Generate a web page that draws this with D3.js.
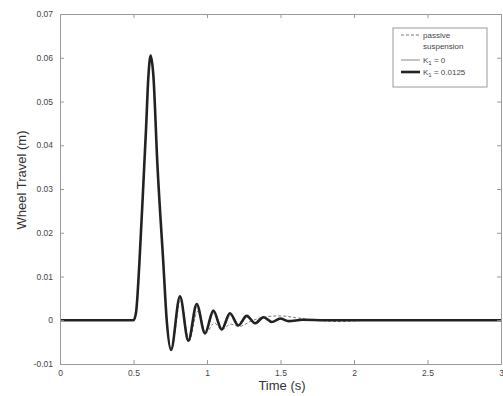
<!DOCTYPE html>
<html>
<head>
<meta charset="utf-8">
<script src="https://cdn.jsdelivr.net/npm/d3@7"></script>
<style>
  body { margin: 0; background: #fff; }
  svg { display: block; font-family: Arial, "Liberation Sans", sans-serif; }
</style>
</head>
<body>
<div id="chart"></div>
<script>
// values
var xTicks = [0, 0.5, 1, 1.5, 2, 2.5, 3];
var yTicks = [-0.01, 0, 0.01, 0.02, 0.03, 0.04, 0.05, 0.06, 0.07];

// K1 = 0.0125 (thick)
var tActive = [0, 0.50, 0.517, 0.54, 0.574, 0.585, 0.60, 0.617, 0.635, 0.662, 0.703, 0.726, 0.755, 0.816, 0.873, 0.93, 0.986, 1.043, 1.10, 1.156, 1.213, 1.27, 1.327, 1.384, 1.441, 1.498, 1.555, 1.65, 1.8, 3.0];
var yActive = [0, 0, 0.0017, 0.013, 0.036, 0.0435, 0.055, 0.0605, 0.056, 0.036, 0.013, 0, -0.0068, 0.0055, -0.0047, 0.0037, -0.003, 0.0022, -0.0021, 0.0016, -0.0012, 0.001, -0.0007, 0.0007, -0.0004, 0.0004, -0.0002, 0.0001, 0, 0];

// K1 = 0 (thin)
var tK0 = [0, 0.50, 0.517, 0.54, 0.574, 0.585, 0.60, 0.617, 0.635, 0.662, 0.703, 0.726, 0.756, 0.818, 0.876, 0.934, 0.99, 1.048, 1.105, 1.162, 1.22, 1.277, 1.335, 1.392, 1.45, 1.51, 1.57, 1.7, 1.9, 3.0];
var yK0 = [0, 0, 0.0017, 0.013, 0.036, 0.0435, 0.055, 0.0604, 0.056, 0.036, 0.013, 0, -0.0066, 0.0052, -0.0045, 0.0033, -0.0028, 0.0018, -0.0019, 0.0012, -0.0011, 0.0009, -0.0007, 0.0006, -0.0004, 0.0003, -0.0002, 0.0001, 0, 0];

// passive suspension (dashed)
var tPassive = [0, 0.50, 0.517, 0.54, 0.574, 0.585, 0.60, 0.617, 0.635, 0.662, 0.703, 0.726, 0.757, 0.82, 0.878, 0.935, 0.99, 1.05, 1.10, 1.16, 1.22, 1.30, 1.40, 1.50, 1.60, 1.75, 1.9, 2.1, 3.0];
var yPassive = [0, 0, 0.0017, 0.013, 0.036, 0.0435, 0.055, 0.0604, 0.056, 0.036, 0.013, 0, -0.0066, 0.0045, -0.0048, 0.002, -0.003, -0.0006, -0.0022, -0.0009, -0.0014, -0.0002, 0.0008, 0.001, 0.0006, 0, -0.0003, 0, 0];

var width = 503, height = 396;
var margin = {left: 60, right: 2, top: 14, bottom: 32};

var svg = d3.select("#chart").append("svg")
    .attr("width", width)
    .attr("height", height);

var x = d3.scaleLinear().domain([0, 3]).range([margin.left, width - margin.right]);
var y = d3.scaleLinear().domain([-0.01, 0.07]).range([height - margin.bottom, margin.top]);

var frameColor = "#9a9a9a";
var textColor = "#444";

// plot lines
var line = d3.line()
    .x(function(d) { return x(d[0]); })
    .y(function(d) { return y(d[1]); })
    .curve(d3.curveMonotoneX);

svg.append("path")
    .datum(d3.zip(tPassive, yPassive))
    .attr("d", line)
    .attr("fill", "none")
    .attr("stroke", "#777")
    .attr("stroke-width", 1)
    .attr("stroke-dasharray", "3,2");

svg.append("path")
    .datum(d3.zip(tK0, yK0))
    .attr("d", line)
    .attr("fill", "none")
    .attr("stroke", "#888")
    .attr("stroke-width", 1);

svg.append("path")
    .datum(d3.zip(tActive, yActive))
    .attr("d", line)
    .attr("fill", "none")
    .attr("stroke", "#222")
    .attr("stroke-width", 2.6);

// axes, matlab style: ticks inward on all four sides
var axBottom = svg.append("g")
    .attr("transform", "translate(0," + y(-0.01) + ")")
    .call(d3.axisBottom(x).tickValues(xTicks).tickSizeInner(-4).tickSizeOuter(0).tickPadding(6)
        .tickFormat(function(d) { return String(d); }));
var axTop = svg.append("g")
    .attr("transform", "translate(0," + y(0.07) + ")")
    .call(d3.axisTop(x).tickValues(xTicks).tickSizeInner(-4).tickSizeOuter(0).tickFormat(""));
var axLeft = svg.append("g")
    .attr("transform", "translate(" + x(0) + ",0)")
    .call(d3.axisLeft(y).tickValues(yTicks).tickSizeInner(-4).tickSizeOuter(0).tickPadding(7)
        .tickFormat(function(d) { return String(+d.toFixed(2)); }));
var axRight = svg.append("g")
    .attr("transform", "translate(" + x(3) + ",0)")
    .call(d3.axisRight(y).tickValues(yTicks).tickSizeInner(-4).tickSizeOuter(0).tickFormat(""));

[axBottom, axTop, axLeft, axRight].forEach(function(g) {
    g.select(".domain").attr("stroke", frameColor);
    g.selectAll(".tick line").attr("stroke", frameColor);
    g.selectAll(".tick text").attr("fill", textColor).style("font-size", "8.5px");
});

// axis titles
svg.append("text")
    .attr("x", 282)
    .attr("y", 390)
    .attr("text-anchor", "middle")
    .attr("fill", "#333")
    .style("font-size", "13px")
    .text("Time (s)");

svg.append("text")
    .attr("transform", "translate(26,180) rotate(-90)")
    .attr("text-anchor", "middle")
    .attr("fill", "#333")
    .style("font-size", "13px")
    .text("Wheel Travel (m)");

// legend
var legend = svg.append("g");
legend.append("rect")
    .attr("x", 393).attr("y", 28)
    .attr("width", 94).attr("height", 59)
    .attr("fill", "#fff")
    .attr("stroke", frameColor);

var legendItems = [
    {y: 35, dash: "3,2", color: "#777", w: 1},
    {y: 60, dash: null, color: "#888", w: 1},
    {y: 72, dash: null, color: "#222", w: 2.6}
];
legendItems.forEach(function(it) {
    legend.append("line")
        .attr("x1", 401).attr("x2", 420)
        .attr("y1", it.y).attr("y2", it.y)
        .attr("stroke", it.color)
        .attr("stroke-width", it.w)
        .attr("stroke-dasharray", it.dash);
});

legend.append("text").attr("x", 423).attr("y", 38).text("passive");
legend.append("text").attr("x", 423).attr("y", 49).text("suspension");
var k0 = legend.append("text").attr("x", 423).attr("y", 63);
k0.append("tspan").text("K");
k0.append("tspan").attr("dy", 2).attr("class", "sub").text("1");
k0.append("tspan").attr("dy", -2).text(" = 0");
var k1 = legend.append("text").attr("x", 423).attr("y", 75);
k1.append("tspan").text("K");
k1.append("tspan").attr("dy", 2).attr("class", "sub").text("1");
k1.append("tspan").attr("dy", -2).text(" = 0.0125");
legend.selectAll("text").attr("fill", textColor).style("font-size", "8px");
legend.selectAll("tspan.sub").style("font-size", "6px");
</script>
</body>
</html>
